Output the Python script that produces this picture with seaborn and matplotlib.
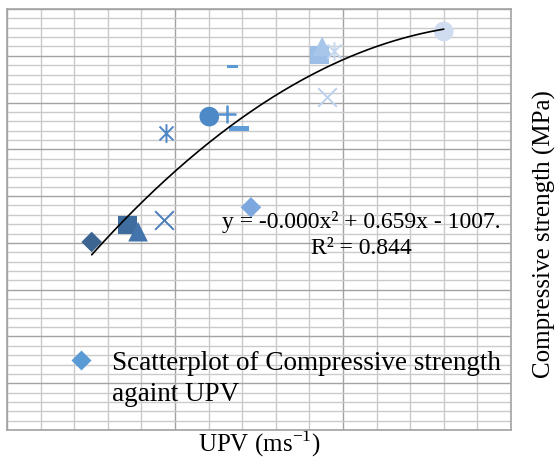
"""
plot.py
-------
Scatter of compressive strength against UPV with a 2nd order trendline,
styled like the Excel chart (no tick labels, dense grid).
"""

import numpy as np
import pandas as pd
import matplotlib
matplotlib.use("Agg")
import matplotlib.pyplot as plt
from matplotlib.path import Path
from matplotlib.lines import Line2D
import seaborn as sns

# ── Data ──────────────────────────────────────────────────────────────────────
upv      = [2726, 2779, 2795, 2833, 2837, 2901, 2928, 2945, 2936,
            2963, 3065, 3069, 3087, 3076, 3250]
strength = [20.1, 21.9, 21.2, 22.4, 31.8, 33.5, 33.8, 32.2, 38.9,
            23.8, 40.1, 41.0, 40.5, 35.6, 42.6]
markers  = ["diamond", "square", "triangle", "x", "star", "circle", "plus",
            "longdash", "dash", "diamond", "square", "triangle", "star",
            "x", "circle"]
colors   = ["#3C6591", "#3F6C9E", "#4374AC", "#4A7EBB", "#4F86C6", "#4E89C7",
            "#5592D0", "#609CD8", "#5B9BD5", "#7CA8DF", "#9DBEE6", "#A8C5EA",
            "#C4D7EF", "#BCD1ED", "#D0DDF1"]

EQUATION = "y = -0.000x\u00b2 + 0.659x - 1007.\nR\u00b2 = 0.844"
LEGEND   = ["Scatterplot of Compressive strength", "againt UPV"]

XLIM = (2600, 3350)
YLIM = (0, 45)

# ── Marker shapes ─────────────────────────────────────────────────────────────
star_path = Path(
    [(0, -1), (0, 1), (-0.75, -0.75), (0.75, 0.75), (-0.75, 0.75), (0.75, -0.75)],
    [Path.MOVETO, Path.LINETO] * 3,
)
bar_path = Path(
    [(-1, -0.27), (1, -0.27), (1, 0.27), (-1, 0.27), (-1, -0.27)],
    [Path.MOVETO, Path.LINETO, Path.LINETO, Path.LINETO, Path.CLOSEPOLY],
)
# name -> (marker, size, filled, linewidth)
MARKER_STYLE = {
    "diamond":  ("D", 110, True, 0),
    "square":   ("s", 180, True, 0),
    "triangle": ("^", 200, True, 0),
    "circle":   ("o", 200, True, 0),
    "x":        ("x", 180, False, 1.4),
    "plus":     ("+", 180, False, 1.8),
    "star":     (star_path, 180, False, 1.4),
    "longdash": (bar_path, 200, True, 0),
    "dash":     (bar_path, 64, True, 0),
}

df = pd.DataFrame({"upv": upv, "strength": strength,
                   "marker": markers, "color": colors})

# ── Figure ────────────────────────────────────────────────────────────────────
sns.set_style("white")
plt.rcParams["font.family"] = ["Liberation Serif", "DejaVu Serif"]
plt.rcParams["text.color"] = "black"
plt.rcParams["axes.labelcolor"] = "black"

fig = plt.figure(figsize=(5.57, 4.60), dpi=100)
ax = fig.add_axes([0.0126, 0.0630, 0.9048, 0.9152])

for _, row in df.iterrows():
    m, s, filled, lw = MARKER_STYLE[row["marker"]]
    ec = "none" if filled else row["color"]
    sns.scatterplot(x=[row["upv"]], y=[row["strength"]], marker=m, s=s,
                    color=row["color"], edgecolor=ec, linewidth=lw,
                    ax=ax, legend=False, zorder=3)

# polynomial trendline (order 2) over the data range
coef = np.polyfit(df["upv"], df["strength"], 2)
xs = np.linspace(min(upv), max(upv), 200)
sns.lineplot(x=xs, y=np.polyval(coef, xs), color="black", linewidth=1.2,
             ax=ax, zorder=4)

ax.text(0.7024, 0.4656, EQUATION, transform=ax.transAxes, ha="center",
        va="center", multialignment="center", fontsize=17, linespacing=1.3,
        color="black", zorder=5)

# ── Axes / grid ───────────────────────────────────────────────────────────────
ax.set_xlim(*XLIM)
ax.set_ylim(*YLIM)
ax.set_xticks(np.arange(XLIM[0], XLIM[1] + 1, 250))
ax.set_xticks(np.arange(XLIM[0], XLIM[1] + 1, 50), minor=True)
ax.set_yticks(np.arange(YLIM[0], YLIM[1] + 1, 5))
ax.set_yticks(np.arange(YLIM[0], YLIM[1] + 0.1, 1), minor=True)
ax.grid(which="minor", color="#CBCBCB", linewidth=1.0)
ax.grid(which="major", color="#A3A3A3", linewidth=1.0)
ax.set_axisbelow(True)
ax.tick_params(which="both", length=0, labelbottom=False, labelleft=False)
for sp in ax.spines.values():
    sp.set_color("#A3A3A3")
    sp.set_linewidth(1.2)

ax.set_xlabel("UPV (ms$^{\\mathregular{-1}}$)", fontsize=18)
ax.xaxis.label.set_verticalalignment("baseline")
ax.xaxis.set_label_coords(0.5, -0.049)
ax.yaxis.set_label_position("right")
ax.set_ylabel("Compressive strength (MPa)", fontsize=18)
ax.yaxis.set_label_coords(1.044, 0.468)

# legend: marker sits beside the first line of the wrapped label
handles = [Line2D([], [], linestyle="none", marker="D", markersize=10,
                  color="#5B9BD5", markeredgecolor="none"),
           Line2D([], [], linestyle="none", marker="none")]
leg = ax.legend(handles, LEGEND, loc="upper left", bbox_to_anchor=(0.08, 0.222),
                frameon=False, fontsize=19.5, handlelength=1.5,
                handletextpad=0.4, borderpad=0, labelspacing=0.2)

plt.savefig("out.png", dpi=100)
